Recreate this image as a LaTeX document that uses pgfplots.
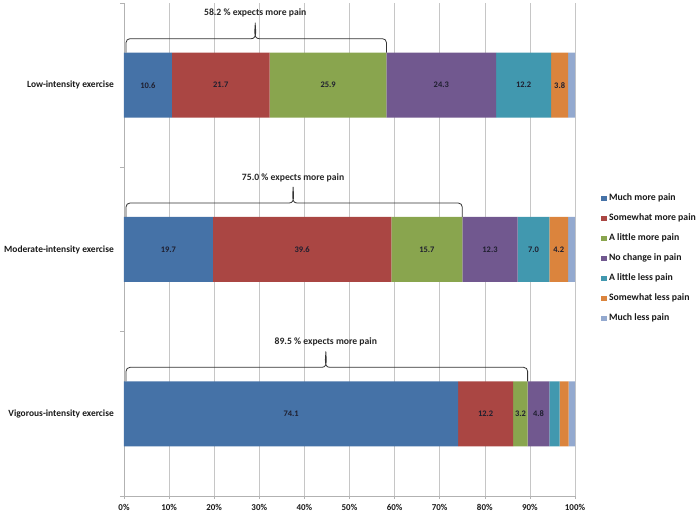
\documentclass[border=0pt]{standalone}
\usepackage{fontspec}
\setmainfont{Carlito}
\usepackage{pgfplots}
\pgfplotsset{compat=1.18}
\usepackage{pgfplotstable}

\definecolor{c1}{HTML}{4572A7}
\definecolor{c2}{HTML}{AA4643}
\definecolor{c3}{HTML}{89A54E}
\definecolor{c4}{HTML}{71588F}
\definecolor{c5}{HTML}{4198AF}
\definecolor{c6}{HTML}{DB843D}
\definecolor{c7}{HTML}{93A9CF}
\definecolor{labtext}{HTML}{1F1F2F}

\pgfplotstableread{
y a b c d e f g
2 10.6 21.7 25.9 24.3 12.2 3.8 1.5
1 19.7 39.6 15.7 12.3 7.0 4.2 1.5
0 74.1 12.2 3.2 4.8 2.3 2.0 1.4
}\painTable

\newcommand\mybrace[4]{%
  \draw[black!80, line width=0.8bp]
    ([yshift=32.5bp,xshift=2bp]axis cs:0,#1) -- ([yshift=42.5bp,xshift=2bp]axis cs:0,#1)
    to[out=90,in=180] ([yshift=46.5bp,xshift=6bp]axis cs:0,#1)
    -- ([yshift=46.5bp,xshift=-4bp]axis cs:#3,#1)
    to[out=0,in=-90] ([yshift=62.5bp]axis cs:#3,#1)
    to[out=-90,in=180] ([yshift=46.5bp,xshift=4bp]axis cs:#3,#1)
    -- ([yshift=46.5bp,xshift=-4bp]axis cs:#2,#1)
    to[out=0,in=90] ([yshift=42.5bp]axis cs:#2,#1)
    -- ([yshift=32.5bp]axis cs:#2,#1);
  \node[font=\fontsize{9.7}{11}\selectfont\bfseries, text=black!85, inner sep=0pt]
    at ([yshift=72bp]axis cs:#3,#1) {#4 \% expects more pain};
}

\pgfplotsset{commonaxis/.style={
  at={(0,0)}, anchor=south west,
  scale only axis, width=451bp, height=493bp,
  xmin=0, xmax=100, ymin=-0.5, ymax=2.5,
}}

\begin{document}
\begin{tikzpicture}
\path[use as bounding box] (-124bp,-19bp) rectangle (573bp,496bp);
\begin{axis}[
  commonaxis,
  xbar stacked, bar width=65bp,
  axis x line*=bottom, axis y line*=left,
  axis line style={gray!60, line width=0.6bp},
  ytick={0,1,2},
  yticklabels={Vigorous-intensity exercise, Moderate-intensity exercise, Low-intensity exercise},
  minor ytick={-0.5,0.5,1.5,2.5},
  xtick={0,10,...,100},
  xticklabels={0\%,10\%,20\%,30\%,40\%,50\%,60\%,70\%,80\%,90\%,100\%},
  tick align=outside,
  major tick length=3bp, minor tick length=4bp,
  major y tick style={draw=none},
  minor y tick style={draw=gray!60, line width=0.6bp},
  major x tick style={draw=gray!60, line width=0.6bp},
  xmajorgrids, major grid style={gray!45, line width=0.6bp},
  ticklabel style={font=\fontsize{9.5}{11}\selectfont\bfseries, text=black!90},
  yticklabel style={inner sep=0pt, xshift=-7bp},
  xticklabel style={font=\fontsize{9}{11}\selectfont\bfseries, inner sep=0pt, yshift=-5bp},
  legend image code/.code={\fill[#1] (0bp,-2.6bp) rectangle (5.2bp,2.6bp);},
  legend style={at={(1.058,0.4817)}, anchor=west, draw=none, fill=none,
    font=\fontsize{9.8}{11}\selectfont\bfseries, text=black!90,
    inner sep=0pt, row sep=9.2bp,
    nodes={inner sep=1bp, text height=6.8bp, text depth=2bp},
    /tikz/every odd column/.append style={column sep=1.5bp}},
  legend cell align=left,
]
\addplot[fill=c1, draw=none] table[x=a, y=y] {\painTable};
\addplot[fill=c2, draw=none] table[x=b, y=y] {\painTable};
\addplot[fill=c3, draw=none] table[x=c, y=y] {\painTable};
\addplot[fill=c4, draw=none] table[x=d, y=y] {\painTable};
\addplot[fill=c5, draw=none] table[x=e, y=y] {\painTable};
\addplot[fill=c6, draw=none] table[x=f, y=y] {\painTable};
\addplot[fill=c7, draw=none] table[x=g, y=y] {\painTable};
\legend{Much more pain, Somewhat more pain, A little more pain, No change in pain, A little less pain, Somewhat less pain, Much less pain}
\end{axis}

\begin{axis}[
  commonaxis,
  hide axis,
  clip=false,
]
\addplot[draw=none, mark=none, nodes near coords={\pgfplotspointmeta},
  point meta=explicit symbolic,
  every node near coord/.style={anchor=center, font=\fontsize{8.5}{10}\selectfont\bfseries, text=labtext}]
  coordinates {
  (5.3,2) [10.6] (21.45,2) [21.7] (45.25,2) [25.9] (70.35,2) [24.3] (88.6,2) [12.2] (96.6,2) [3.8]
  (9.85,1) [19.7] (39.5,1) [39.6] (67.15,1) [15.7] (81.15,1) [12.3] (90.8,1) [7.0] (96.4,1) [4.2]
  (37.05,0) [74.1] (80.2,0) [12.2] (87.9,0) [3.2] (91.9,0) [4.8]
  };
\mybrace{2}{58.2}{29.1}{58.2}
\mybrace{1}{75.0}{37.5}{75.0}
\mybrace{0}{89.5}{44.75}{89.5}
\end{axis}
\end{tikzpicture}
\end{document}
